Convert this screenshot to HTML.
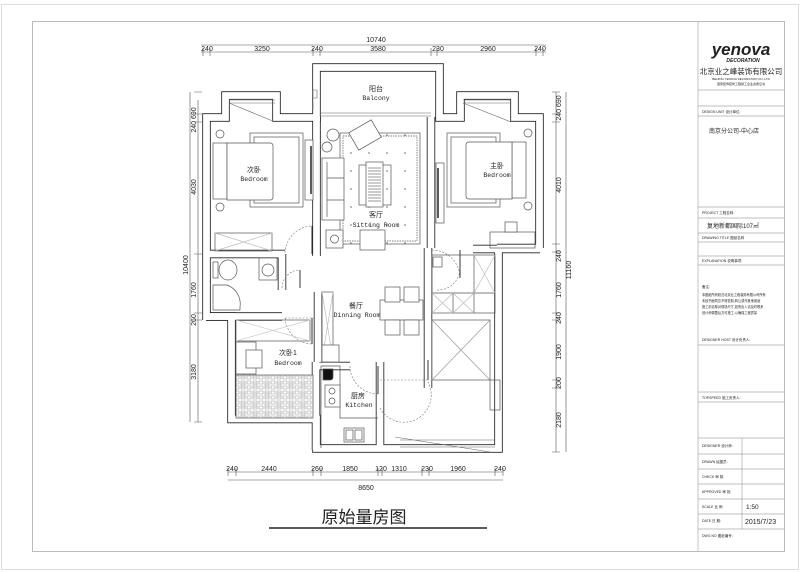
<!DOCTYPE html>
<html><head><meta charset="utf-8"><style>
html,body{margin:0;padding:0;background:#fff}
svg{display:block}
text{font-family:"Liberation Sans","Noto Sans CJK SC",sans-serif;fill:#222}
text.m{font-family:"Liberation Mono","Noto Sans CJK SC",monospace;font-size:6.5px}
</style></head><body>
<svg width="800" height="573" viewBox="0 0 800 573" xmlns="http://www.w3.org/2000/svg">
<defs>
<pattern id="tile" width="12" height="10" patternUnits="userSpaceOnUse">
<rect width="12" height="10" fill="#fff"/>
<path d="M1 1h4v8h-4zM7 1h4v3h-4zM7 6h4v3h-4z" fill="none" stroke="#999" stroke-width="0.6"/>
<path d="M2 2v6M3 2v6M4 2v6" stroke="#bbb" stroke-width="0.5"/>
</pattern>
<pattern id="dots" width="18" height="18" patternUnits="userSpaceOnUse">
<circle cx="9" cy="9" r="0.9" fill="#888"/>
</pattern>
</defs>
<rect x="1.5" y="4.5" width="797" height="565" fill="none" stroke="#ddd" stroke-width="1"/>
<rect x="32.5" y="21.5" width="752" height="530" fill="none" stroke="#bbb" stroke-width="1"/>
<g stroke="#aaa" stroke-width="0.7" fill="none">
<line x1="698" y1="21" x2="698" y2="551"/>
<line x1="698" y1="90" x2="784" y2="90"/>
<line x1="698" y1="106" x2="784" y2="106"/>
<line x1="698" y1="116" x2="784" y2="116"/>
<line x1="698" y1="207" x2="784" y2="207"/>
<line x1="698" y1="218" x2="784" y2="218"/>
<line x1="698" y1="233" x2="784" y2="233"/>
<line x1="698" y1="242" x2="784" y2="242"/>
<line x1="698" y1="256" x2="784" y2="256"/>
<line x1="698" y1="265" x2="784" y2="265"/>
<line x1="698" y1="345" x2="784" y2="345"/>
<line x1="698" y1="392" x2="784" y2="392"/>
<line x1="698" y1="402" x2="784" y2="402"/>
<line x1="698" y1="438" x2="784" y2="438"/>
<line x1="698" y1="454" x2="784" y2="454"/>
<line x1="698" y1="469" x2="784" y2="469"/>
<line x1="698" y1="484" x2="784" y2="484"/>
<line x1="698" y1="499" x2="784" y2="499"/>
<line x1="698" y1="514" x2="784" y2="514"/>
<line x1="698" y1="529" x2="784" y2="529"/>
<line x1="742" y1="438" x2="742" y2="529"/>
</g>
<text x="741" y="55" font-size="17" font-weight="bold" font-style="italic" text-anchor="middle" fill="#111">yenova</text>
<text x="743" y="62" font-size="5" font-weight="bold" font-style="italic" text-anchor="middle">DECORATION</text>
<text x="741" y="74" font-size="7.5" text-anchor="middle">北京业之峰装饰有限公司</text>
<text x="741" y="80" font-size="3" text-anchor="middle" fill="#777">BEIJING YENOVA DECORATION CO.,LTD</text>
<text x="741" y="85" font-size="3" text-anchor="middle" fill="#777">国家装饰装修工程施工企业资质证书</text>
<text x="702" y="113" font-size="3.5" fill="#888">DESIGN UNIT    设计单位:</text>
<text x="709" y="133" font-size="6">南京分公司-中心店</text>
<text x="702" y="214" font-size="3.5" fill="#888">PROJECT          工程名称:</text>
<text x="707" y="228" font-size="6">复地新都国际107㎡</text>
<text x="702" y="239" font-size="3.5" fill="#888">DRAWING TITLE    图纸名称</text>
<text x="702" y="262" font-size="3.5" fill="#888">EXPLANATION      说明事项:</text>
<text x="702" y="288" font-size="3.5" fill="#888">备注:</text>
<text x="702" y="296" font-size="3.2" fill="#999">本图纸所有权归北京业之峰装饰有限公司所有</text>
<text x="702" y="302" font-size="3.2" fill="#999">未经书面同意不得复制,转让或作其他用途</text>
<text x="702" y="308" font-size="3.2" fill="#999">施工前请核对现场尺寸,如有出入请及时联系</text>
<text x="702" y="314" font-size="3.2" fill="#999">设计师调整后方可施工,以确保工程质量</text>
<text x="702" y="341" font-size="3.5" fill="#888">DESIGNER HOST    设计负责人:</text>
<text x="702" y="399" font-size="3.5" fill="#888">TOPSPEED    施工负责人:</text>
<text x="702" y="447" font-size="3.5" fill="#888">DESIGNER  设计师:</text>
<text x="702" y="463" font-size="3.5" fill="#888">DRAWN     绘图员:</text>
<text x="702" y="478" font-size="3.5" fill="#888">CHECK     审 核:</text>
<text x="702" y="493" font-size="3.5" fill="#888">APPROVED  审 批:</text>
<text x="702" y="508" font-size="3.5" fill="#888">SCALE     比 例:</text>
<text x="746" y="509" font-size="6.5">1:50</text>
<text x="702" y="522" font-size="3.5" fill="#888">DATE      日 期:</text>
<text x="745" y="524" font-size="7">2015/7/23</text>
<text x="702" y="537" font-size="3.5" fill="#888">DWG NO      图纸编号:</text>

<g stroke="#555" stroke-width="0.6" fill="none">
<line x1="201" y1="52" x2="546" y2="52"/>
<line x1="201" y1="45" x2="546" y2="45"/>
<path d="M203 48v8M210 48v8M313 48v8M320 48v8M431 48v8M437 48v8M536 48v8M543 48v8"/>
<line x1="228" y1="472" x2="503" y2="472"/>
<line x1="228" y1="480" x2="503" y2="480"/>
<path d="M228 468v8M236 468v8M313 468v8M321 468v8M378 468v8M382 468v8M422 468v8M429 468v8M495 468v8M503 468v8"/>
<line x1="198" y1="100" x2="198" y2="422"/>
<line x1="190" y1="92" x2="190" y2="422"/>
<path d="M194 92h8M194 114h8M194 122h8M194 254h8M194 313h8M194 320h8M194 422h8"/>
<line x1="556" y1="92" x2="556" y2="452"/>
<line x1="566" y1="92" x2="566" y2="452"/>
<path d="M552 92h8M552 114h8M552 122h8M552 244h8M552 252h8M552 313h8M552 320h8M552 380h8M552 388h8M552 452h8"/>
</g>
<g font-size="7" text-anchor="middle">
<text x="376" y="42">10740</text>
<text x="207" y="51">240</text><text x="262" y="51">3250</text><text x="317" y="51">240</text><text x="378" y="51">3580</text><text x="438" y="51">230</text><text x="488" y="51">2960</text><text x="540" y="51">240</text>
<text x="232" y="471">240</text><text x="269" y="471">2440</text><text x="317" y="471">260</text><text x="350" y="471">1850</text><text x="381" y="471">120</text><text x="399" y="471">1310</text><text x="427" y="471">230</text><text x="458" y="471">1960</text><text x="500" y="471">240</text>
<text x="366" y="490">8650</text>
</g>
<g font-size="7" text-anchor="middle">
<text transform="translate(196,120) rotate(-90)">240  690</text>
<text transform="translate(196,187) rotate(-90)">4030</text>
<text transform="translate(188,265) rotate(-90)">10400</text>
<text transform="translate(196,290) rotate(-90)">1760</text>
<text transform="translate(196,320) rotate(-90)">260</text>
<text transform="translate(196,372) rotate(-90)">3180</text>
<text transform="translate(561,108) rotate(-90)">240  690</text>
<text transform="translate(561,185) rotate(-90)">4010</text>
<text transform="translate(561,256) rotate(-90)">240</text>
<text transform="translate(571,270) rotate(-90)">11160</text>
<text transform="translate(561,290) rotate(-90)">1760</text>
<text transform="translate(561,318) rotate(-90)">240</text>
<text transform="translate(561,352) rotate(-90)">1900</text>
<text transform="translate(561,383) rotate(-90)">200</text>
<text transform="translate(561,420) rotate(-90)">2180</text>
</g>

<g fill="none" stroke-linejoin="miter">
<g stroke="#222" stroke-width="8.5">
<path d="M206.5 320 V117.5 H225.5 V95.5 H276.5 V117.5 H316.5 V67.5 H439.5 V117.5 H460.5 V95.5 H514.5 V117.5 H539.5 V248 M497 248 H539.5 M498.5 248 V448.5 H316.5 V419 H231.5 V316.5 H206.5"/>
<path d="M316.5 117 V256 M206 254 H285 M282 254 V290 M206 316.5 H282 M431 117 V248 M473 249 H540 M428 248 V388 M318 292 V362 M316 366 H350 M380 362 V448 M316 362 V450"/>
</g>
<g stroke="#fff" stroke-width="6.8">
<path d="M206.5 320 V117.5 H225.5 V95.5 H276.5 V117.5 H316.5 V67.5 H439.5 V117.5 H460.5 V95.5 H514.5 V117.5 H539.5 V248 M497 248 H539.5 M498.5 248 V448.5 H316.5 V419 H231.5 V316.5 H206.5"/>
<path d="M316.5 117 V256 M206 254 H285 M282 254 V290 M206 316.5 H282 M431 117 V248 M473 249 H540 M428 248 V388 M318 292 V362 M316 366 H350 M380 362 V448 M316 362 V450"/>
</g>
</g>
<g stroke="#666" stroke-width="0.6" fill="none">
<path d="M321 113h110M321 116h110"/>
<path d="M229 100h46M229 103h46M229 103 L275 122"/>
<path d="M463 100h48M463 103h48M463 103 L511 122"/>
<path d="M313 90v8h4v-8zM313 102v8"/>
<path d="M400 440h95M400 447h95M395 437 L490 452"/>
</g>
<g stroke="#777" stroke-width="0.6" fill="none" stroke-dasharray="2 1.5">
<path d="M285 253 A28 28 0 0 1 312 226"/>
<path d="M432 250 A28 28 0 0 1 460 278"/>
<path d="M285 318 A28 28 0 0 0 312 344"/>
<path d="M282 288 A18 18 0 0 1 300 270"/>
<path d="M350 366 A28 28 0 0 0 378 394"/>
<path d="M380 408 A26 26 0 0 0 428 382"/>
<path d="M437 290 A22 22 0 0 0 460 268"/>
<path d="M285 318 H316 M380 380 H428"/>
</g>
<g stroke="#333" stroke-width="1" fill="none">
<path d="M312 226v28M460 250v28M312 318v26M300 270v18M378 366v28M428 360v20"/>
</g>

<g stroke="#555" stroke-width="0.7" fill="#fff">
<rect x="250" y="133" width="53" height="74"/>
<rect x="254" y="137" width="45" height="66" fill="none"/>
<rect x="213" y="143" width="14" height="56"/>
<path d="M227 143 H270 Q273 143 273 146 V197 Q273 200 270 200 H227 Z"/>
<rect x="305" y="140" width="8" height="60"/>
<line x1="311" y1="146" x2="311" y2="194" stroke="#222" stroke-width="1.5"/>
<rect x="215" y="233" width="57" height="18" fill="none"/>
<path d="M215 233 L272 251 M215 251 L272 233" stroke="#bbb"/>
<circle cx="220" cy="134" r="4" fill="none"/><circle cx="220" cy="207" r="4" fill="none"/>
<rect x="447" y="133" width="53" height="74"/>
<rect x="451" y="137" width="45" height="66" fill="none"/>
<rect x="512" y="142" width="14" height="56"/>
<path d="M512 142 H469 Q466 142 466 145 V196 Q466 199 469 199 H512 Z"/>
<rect x="436" y="163" width="8" height="60"/>
<line x1="438" y1="168" x2="438" y2="218" stroke="#222" stroke-width="1.5"/>
<circle cx="528" cy="133" r="4" fill="none"/><circle cx="528" cy="206" r="4" fill="none"/>
<rect x="490" y="232" width="45" height="16" fill="none"/>
<rect x="505" y="222" width="12" height="10"/>
<rect x="340" y="133" width="80" height="111" fill="url(#dots)"/>
<rect x="343" y="136" width="74" height="105" fill="none" stroke-dasharray="1.5 1"/>
<rect x="322" y="158" width="22" height="62"/>
<path d="M327 162v55M327 178h17M327 200h17" fill="none"/>
<rect x="359" y="165" width="32" height="40" fill="none"/>
<rect x="366" y="162" width="17" height="45"/>
<path d="M368 168h13M368 171h13M368 174h13M368 177h13M368 180h13M368 183h13M368 186h13M368 189h13M368 192h13M368 195h13M368 198h13M368 201h13" stroke="#777"/>
<rect x="352" y="125" width="26" height="20" transform="rotate(-30 365 135)"/>
<rect x="360" y="230" width="25" height="20"/>
<rect x="326" y="230" width="17" height="18"/>
<circle cx="334.5" cy="239" r="4" fill="none"/>
<circle cx="333" cy="135" r="6" fill="none"/><circle cx="327" cy="147" r="5" fill="none"/>
<rect x="213" y="262" width="5" height="16"/>
<ellipse cx="228" cy="270" rx="9" ry="10"/>
<rect x="259" y="258" width="18" height="22"/>
<circle cx="268" cy="270" r="6" fill="none"/>
<path d="M213 285 H227 A20 20 0 0 1 240 307 V310 H213 Z"/>
<rect x="236" y="320" width="74" height="21" fill="none"/>
<path d="M236 320 L310 341 M236 341 L310 320" stroke="#ccc"/>
<rect x="236" y="342" width="20" height="32" fill="none"/>
<rect x="246" y="350" width="16" height="18"/>
<rect x="236" y="375" width="77" height="43" fill="url(#tile)"/>
<rect x="322" y="292" width="11" height="68" fill="none"/>
<path d="M322 292 L333 360 M333 292 L322 360" stroke="#bbb"/>
<rect x="322" y="345" width="17" height="17"/>
<rect x="380" y="300" width="43" height="20" fill="none"/>
<rect x="385" y="287" width="15" height="15"/><rect x="404" y="287" width="15" height="15"/>
<rect x="385" y="320" width="15" height="15"/><rect x="404" y="320" width="15" height="15"/>
<path d="M321 366 V448 M321 366 H340 V418 H378" fill="none"/>
<path d="M323 369 H333 V377 Q333 380 330 380 H323 Z" fill="#111"/>
<rect x="325" y="385" width="15" height="22"/>
<circle cx="332" cy="391" r="3" fill="none"/><circle cx="332" cy="401" r="3" fill="none"/>
<rect x="344" y="428" width="20" height="14"/>
<rect x="346" y="430" width="7" height="10" fill="none"/><rect x="355" y="430" width="7" height="10" fill="none"/>
<rect x="432" y="255" width="63" height="58" fill="none"/>
<rect x="433" y="257" width="9" height="10"/>
<path d="M432 293 H495 M453 293 V313 M474 293 V313 M474 255 V293" fill="none"/>
<path d="M432 293 L453 313 M453 293 L432 313 M453 293 L474 313 M474 293 L453 313 M474 255 L495 293 M495 255 L474 293" stroke="#bbb"/>
<rect x="432" y="320" width="58" height="60"/>
<path d="M432 320 L490 380 M490 320 L432 380" stroke="#999"/>
<rect x="490" y="380" width="10" height="30" fill="none"/>
</g>
<g font-size="7" text-anchor="middle">
<text x="376" y="91">阳台</text><text class="m" x="376" y="100" text-anchor="middle">Balcony</text>
<text x="254" y="172">次卧</text><text class="m" x="254" y="181" text-anchor="middle">Bedroom</text>
<text x="497" y="168">主卧</text><text class="m" x="497" y="177" text-anchor="middle">Bedroom</text>
<text x="376" y="217">客厅</text><text class="m" x="376" y="227" text-anchor="middle">Sitting Room</text>
<text x="356" y="308">餐厅</text><text class="m" x="357" y="317" text-anchor="middle">Dinning Room</text>
<text x="288" y="355">次卧1</text><text class="m" x="288" y="365" text-anchor="middle">Bedroom</text>
<text x="358" y="398">厨房</text><text class="m" x="359" y="407" text-anchor="middle">Kitchen</text>
</g>
<text x="364" y="523" font-size="17" text-anchor="middle" fill="#111">原始量房图</text>
<line x1="269" y1="528" x2="487" y2="528" stroke="#222" stroke-width="1.6"/>
</svg>
</body></html>
